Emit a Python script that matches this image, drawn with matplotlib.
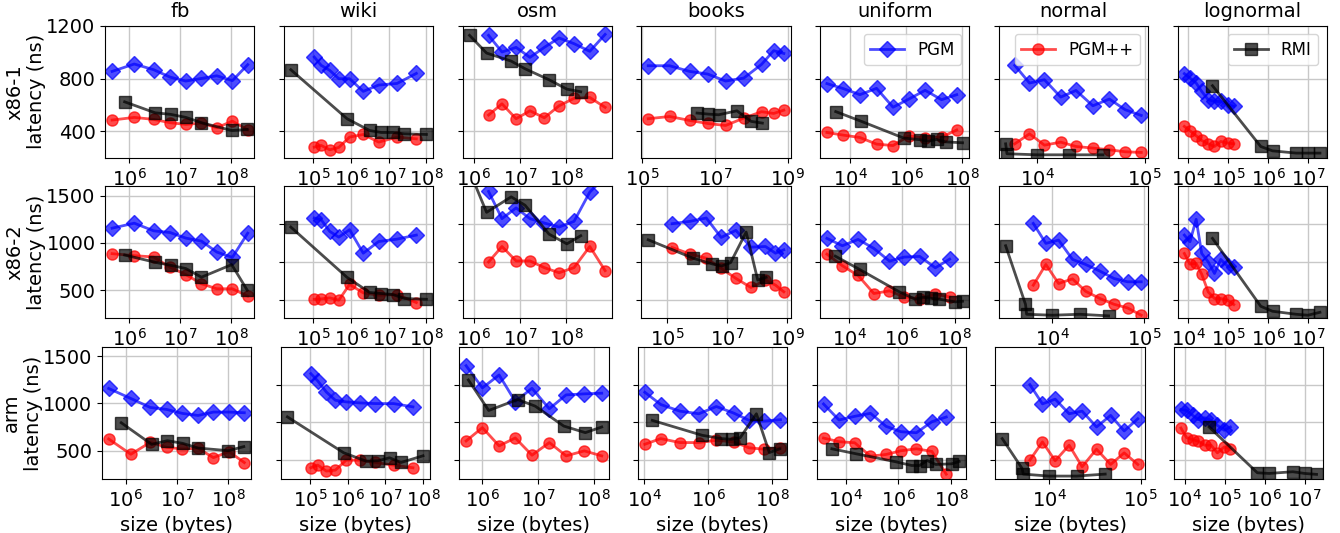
import matplotlib
matplotlib.use('Agg')
import matplotlib.pyplot as plt
from matplotlib.ticker import NullLocator

datasets = ['fb', 'wiki', 'osm', 'books', 'uniform', 'normal', 'lognormal']
platforms = ['x86-1', 'x86-2', 'arm']

# sizes (bytes) for PGM and PGM++ (same sizes for both)
pgm_sizes = {
    'fb': [4.6e5, 1.25e6, 3.0e6, 6.3e6, 1.28e7, 2.6e7, 5.2e7, 1.05e8, 2.1e8],
    'wiki': [1.05e5, 1.6e5, 2.7e5, 4.7e5, 9.1e5, 2.1e6, 5.4e6, 1.66e7, 5.4e7],
    'osm': [2.1e6, 4.1e6, 8.3e6, 1.66e7, 3.4e7, 7.1e7, 1.5e8, 3.3e8, 7.1e8],
    'books': [1.45e5, 5.6e5, 2.0e6, 6.3e6, 1.95e7, 6.2e7, 1.9e8, 4.1e8, 7.8e8],
    'uniform': [1.45e3, 5.6e3, 2.2e4, 8.7e4, 3.4e5, 1.23e6, 4.8e6, 1.86e7, 6.5e7],
    'normal': [6.2e3, 8.5e3, 1.17e4, 1.66e4, 2.3e4, 3.3e4, 4.7e4, 6.6e4, 9.3e4],
    'lognormal': [8.1e3, 1.12e4, 1.6e4, 2.2e4, 3.2e4, 4.6e4, 6.6e4, 9.8e4, 1.4e5],
}
pgm_sizes_arm = dict(pgm_sizes,
                     osm=[5.1e5, 1.0e6, 2.0e6, 3.9e6, 7.8e6, 1.6e7, 3.2e7, 6.8e7, 1.4e8],
                     books=[1.05e4, 3.3e4, 1.3e5, 5.1e5, 1.8e6, 6.3e6, 1.9e7, 5.5e7, 1.8e8])

# sizes (bytes) for RMI
rmi_sizes_x86_1 = {
    'fb': [8.1e5, 3.2e6, 6.5e6, 1.29e7, 2.6e7, 1.02e8, 2.05e8],
    'wiki': [2.5e4, 7.8e5, 3.1e6, 6.3e6, 1.29e7, 2.6e7, 1.0e8],
    'osm': [8.1e5, 1.9e6, 6.5e6, 1.3e7, 4.3e7, 1.05e8, 2.1e8],
    'books': [3.2e6, 6.5e6, 1.26e7, 4.0e7, 9.8e7, 2.0e8],
    'uniform': [3.0e3, 2.5e4, 8.1e5, 3.2e6, 6.3e6, 1.23e7, 2.6e7, 1.05e8],
    'normal': [5.1e3, 5.25e3, 1.0e4, 2.0e4, 4.1e4],
    'lognormal': [4.1e4, 6.6e5, 1.3e6, 5.1e6, 1.0e7, 2.0e7],
}
rmi_sizes_x86_2 = dict(rmi_sizes_x86_1,
                       books=[2.3e4, 7.4e5, 3.2e6, 6.6e6, 1.3e7, 4.3e7, 1.05e8, 2.0e8],
                       uniform=[3.0e3, 2.5e4, 8.1e5, 3.2e6, 6.3e6, 1.23e7, 2.6e7, 1.05e8, 2.0e8],
                       normal=[3.1e3, 5.1e3, 5.25e3, 1.0e4, 2.0e4, 4.1e4])
rmi_sizes_arm = dict(rmi_sizes_x86_2,
                     osm=[5.6e5, 1.3e6, 4.3e6, 8.9e6, 2.9e7, 7.1e7, 1.4e8],
                     books=[1.8e4, 6.5e5, 2.6e6, 5.4e6, 1.0e7, 3.2e7, 8.1e7, 1.7e8])

# latency (ns)
pgm_x86_1 = {
    'fb': [854, 910, 867, 811, 781, 801, 821, 784, 905],
    'wiki': [963, 900, 862, 799, 799, 703, 751, 763, 839],
    'osm': [1127, 1001, 1036, 960, 1036, 1107, 1064, 1006, 1134],
    'books': [897, 897, 854, 834, 781, 804, 907, 1011, 990],
    'uniform': [762, 724, 678, 726, 583, 644, 711, 640, 678],
    'normal': [900, 766, 791, 660, 710, 594, 645, 564, 521],
    'lognormal': [837, 804, 766, 703, 640, 627, 627, 602, 589],
}
pgmpp_x86_1 = {
    'fb': [486, 506, 491, 466, 453, 463, 428, 478, 412],
    'wiki': [281, 294, 261, 279, 357, 377, 319, 357, 344],
    'osm': [524, 609, 496, 556, 503, 594, 650, 657, 582],
    'books': [496, 513, 483, 460, 445, 501, 549, 536, 561],
    'uniform': [392, 372, 354, 304, 293, 365, 352, 357, 411],
    'normal': [306, 382, 296, 319, 286, 274, 261, 246, 241],
    'lognormal': [438, 405, 367, 332, 306, 286, 324, 312, 306],
}
rmi_x86_1 = {
    'fb': [624, 541, 529, 506, 466, 407, 415],
    'wiki': [867, 496, 407, 392, 392, 382, 377],
    'osm': [1127, 993, 932, 874, 791, 720, 700],
    'books': [539, 531, 526, 556, 476, 463],
    'uniform': [550, 476, 350, 337, 327, 339, 321, 314],
    'normal': [306, 231, 223, 223, 223],
    'lognormal': [746, 286, 253, 236, 236, 236],
}
pgm_x86_2 = {
    'fb': [1156, 1209, 1128, 1110, 1051, 1019, 903, 847, 1103],
    'wiki': [1264, 1246, 1122, 1061, 1140, 891, 1015, 1040, 1083],
    'osm': [1545, 1257, 1371, 1257, 1211, 1168, 1228, 1538, 1700],
    'books': [1204, 1228, 1264, 1058, 1133, 955, 962, 891, 927],
    'uniform': [1048, 970, 1037, 942, 807, 850, 857, 736, 828],
    'normal': [1207, 995, 1030, 825, 772, 701, 623, 588, 588],
    'lognormal': [1083, 1012, 1250, 888, 800, 676, 825, 754, 740],
}
pgmpp_x86_2 = {
    'fb': [886, 865, 851, 742, 665, 567, 514, 514, 437],
    'wiki': [403, 407, 418, 393, 560, 471, 446, 453, 368],
    'osm': [798, 962, 809, 809, 738, 684, 738, 962, 706],
    'books': [951, 884, 837, 731, 624, 528, 606, 553, 482],
    'uniform': [881, 758, 655, 464, 492, 428, 407, 457, 428],
    'normal': [552, 772, 570, 619, 488, 411, 350, 311, 234],
    'lognormal': [888, 775, 782, 669, 481, 411, 411, 393, 347],
}
rmi_x86_2 = {
    'fb': [872, 795, 763, 728, 637, 770, 500],
    'wiki': [1168, 635, 475, 464, 453, 411, 403],
    'osm': [1760, 1324, 1488, 1399, 1093, 990, 1076],
    'books': [1033, 837, 777, 756, 791, 1115, 606, 635],
    'uniform': [860, 719, 481, 404, 425, 414, 404, 375, 382],
    'normal': [970, 350, 244, 234, 244, 227],
    'lognormal': [1048, 329, 276, 244, 234, 265],
}
pgm_arm = {
    'fb': [1159, 1053, 958, 937, 895, 873, 909, 909, 902],
    'wiki': [1316, 1239, 1122, 1034, 1017, 1006, 999, 999, 964],
    'osm': [1400, 1165, 1302, 1021, 1161, 944, 1091, 1102, 1109],
    'books': [1119, 989, 919, 891, 968, 898, 821, 814, 828],
    'uniform': [995, 825, 864, 896, 758, 701, 690, 807, 857],
    'normal': [1200, 996, 1046, 891, 919, 751, 874, 709, 838],
    'lognormal': [937, 926, 874, 828, 849, 821, 768, 716, 751],
}
pgmpp_arm = {
    'fb': [624, 462, 588, 536, 518, 525, 426, 490, 374],
    'wiki': [319, 347, 284, 294, 400, 400, 375, 347, 319],
    'osm': [603, 744, 551, 635, 452, 586, 445, 498, 445],
    'books': [568, 628, 586, 586, 610, 593, 530, 516, 530],
    'uniform': [634, 595, 584, 442, 460, 499, 520, 492, 251],
    'normal': [400, 593, 393, 558, 330, 516, 354, 477, 354],
    'lognormal': [740, 638, 617, 600, 558, 558, 477, 540, 516],
}
rmi_arm = {
    'fb': [796, 567, 606, 578, 528, 500, 543],
    'wiki': [858, 478, 389, 393, 425, 375, 446],
    'osm': [1249, 926, 1042, 972, 761, 691, 751],
    'books': [821, 663, 628, 621, 638, 891, 480, 519],
    'uniform': [520, 467, 382, 343, 343, 396, 354, 361, 386],
    'normal': [628, 312, 252, 231, 231, 252],
    'lognormal': [751, 266, 259, 277, 259, 249],
}

xticks = {
    'fb': [1e6, 1e7, 1e8], 'wiki': [1e5, 1e6, 1e7, 1e8], 'osm': [1e6, 1e7, 1e8],
    'books': [1e5, 1e7, 1e9], 'uniform': [1e4, 1e6, 1e8], 'normal': [1e4, 1e5],
    'lognormal': [1e4, 1e5, 1e6, 1e7],
}
xticks_arm = dict(xticks, books=[1e4, 1e6, 1e8])

rows = [
    (pgm_sizes, rmi_sizes_x86_1, pgm_x86_1, pgmpp_x86_1, rmi_x86_1, xticks),
    (pgm_sizes, rmi_sizes_x86_2, pgm_x86_2, pgmpp_x86_2, rmi_x86_2, xticks),
    (pgm_sizes_arm, rmi_sizes_arm, pgm_arm, pgmpp_arm, rmi_arm, xticks_arm),
]

plt.rcParams['font.size'] = 14
plt.rcParams['legend.fontsize'] = 12

fig, axes = plt.subplots(3, 7, figsize=(13.4, 5.33), dpi=100)
fig.subplots_adjust(left=0.0786, right=0.9901, top=0.9518, bottom=0.1013,
                    wspace=0.198, hspace=0.215)

style = dict(lw=2, ms=8, alpha=0.7)
for r, (psz, rsz, pgm, pgmpp, rmi, ticks) in enumerate(rows):
    for c, ds in enumerate(datasets):
        ax = axes[r, c]
        l1, = ax.plot(psz[ds], pgm[ds], color='b', marker='D', label='PGM', **style)
        l2, = ax.plot(psz[ds], pgmpp[ds], color='r', marker='o', label='PGM++', **style)
        l3, = ax.plot(rsz[ds], rmi[ds], color='k', marker='s', label='RMI', **style)
        ax.set_xscale('log')
        ax.set_xticks(ticks[ds])
        ax.xaxis.set_minor_locator(NullLocator())
        ax.set_ylim(200, 1200 if r == 0 else 1600)
        if c == 0 and r > 0:
            ax.set_yticks([500, 1000, 1500])
        else:
            ax.set_yticks([400, 800, 1200])
        if c > 0:
            ax.set_yticklabels([])
        else:
            ax.set_ylabel(platforms[r] + '\nlatency (ns)')
            ax.yaxis.set_label_coords(-0.395, 0.5)
        ax.grid(True, color='#c8c8c8', lw=1)
        if r == 0:
            ax.set_title(ds, fontsize=14)
            if ds == 'uniform':
                ax.legend(handles=[l1], loc='upper right')
            elif ds == 'normal':
                ax.legend(handles=[l2], loc='upper right')
            elif ds == 'lognormal':
                ax.legend(handles=[l3], loc='upper right')
        if r == 2:
            ax.set_xlabel('size (bytes)')
            pos = ax.get_position()
            ax.set_position([pos.x0 - 3.4 / 1340, pos.y0, pos.width, pos.height])

plt.savefig('out.png')
